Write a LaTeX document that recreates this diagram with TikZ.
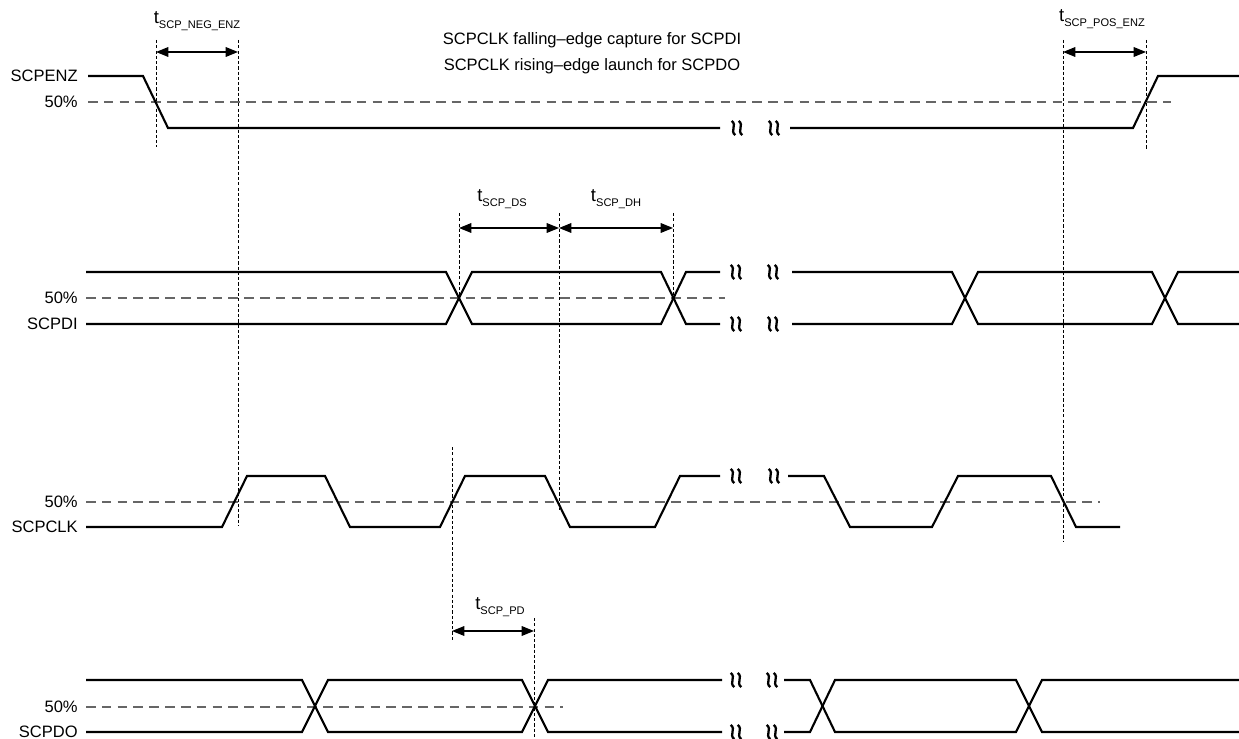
\documentclass[tikz,border=0pt]{standalone}
\usepackage{fontspec}
\setmainfont{Liberation Sans}
\usetikzlibrary{arrows.meta}
\newcommand{\tlab}[1]{{\fontsize{10.5}{12}\selectfont t}\raisebox{-0.55ex}{\fontsize{6.3}{7}\selectfont #1}}
\tikzset{
  brk/.pic={
    \foreach \dx in {-3.5,3.5}
      \draw[line width=1.3pt] (\dx-1.8,-7) .. controls (\dx+4,-3) and (\dx-4,3) .. (\dx+1.8,7);
  }
}

\begin{document}
\begin{tikzpicture}[x=0.02cm,y=-0.02cm,
  sig/.style={line width=1.2pt,line join=miter},
  half/.style={line width=0.8pt,gray!80!black,dash pattern=on 5.5pt off 3.5pt},
  tmark/.style={line width=0.5pt,dash pattern=on 1.8pt off 1.2pt},
  dim/.style={line width=0.7pt,{Triangle[length=7pt,width=5.5pt]}-{Triangle[length=7pt,width=5.5pt]}},
  lbl/.style={anchor=east,inner sep=0pt,font=\fontsize{9.4}{11}\selectfont},
  txt/.style={inner sep=0pt,font=\fontsize{9.4}{11}\selectfont}]
\useasboundingbox (0,0) rectangle (1239,739);

% row labels
\node[lbl] (enz) at (78,76) {SCPENZ};
\node[lbl] (enzh) at (78,102) {50\%};
\node[lbl] (dih) at (78,298) {50\%};
\node[lbl] (di) at (78,324) {SCPDI};
\node[lbl] (clkh) at (78,502) {50\%};
\node[lbl] (clk) at (78,527) {SCPCLK};
\node[lbl] (doh) at (78,707) {50\%};
\node[lbl] (do) at (78,732) {SCPDO};

\node[txt] (cap) at (592,40) {SCPCLK falling--edge capture for SCPDI};
\node[txt] (lau) at (592,66) {SCPCLK rising--edge launch for SCPDO};

% 50% levels
\draw[half] (88,102) -- (1171,102);
\draw[half] (86,298) -- (725,298);
\draw[half] (86,502) -- (1100,502);
\draw[half] (86,707) -- (563,707);

% SCPENZ
\draw[sig] (88,76) -- (143,76) -- (168,128) -- (720,128);
\draw[sig] (790,128) -- (1133,128) -- (1158,76) -- (1239,76);
\pic at (737,128) {brk};
\pic at (774,128) {brk};

% SCPDI
\draw[sig] (86,272) -- (446,272) -- (472,324) -- (661,324) -- (686,272) -- (720,272);
\draw[sig] (86,324) -- (446,324) -- (472,272) -- (661,272) -- (686,324) -- (720,324);
\draw[sig] (792,272) -- (952,272) -- (978,324) -- (1152,324) -- (1178,272) -- (1239,272);
\draw[sig] (792,324) -- (952,324) -- (978,272) -- (1152,272) -- (1178,324) -- (1239,324);
\foreach \y in {272,324} {
  \pic at (736,\y) {brk};
  \pic at (773,\y) {brk};
}

% SCPCLK
\draw[sig] (86,527) -- (222,527) -- (247,476) -- (325,476) -- (350,527) -- (440,527) -- (465,476)
  -- (545,476) -- (570,527) -- (655,527) -- (680,476) -- (720,476);
\draw[sig] (788,476) -- (824,476) -- (850,527) -- (932,527) -- (958,476) -- (1051,476) -- (1076,527) -- (1120,527);
\pic at (736,476) {brk};
\pic at (774,476) {brk};

% SCPDO
\draw[sig] (86,680) -- (302,680) -- (328,732) -- (522,732) -- (548,680) -- (722,680);
\draw[sig] (86,732) -- (302,732) -- (328,680) -- (522,680) -- (548,732) -- (722,732);
\draw[sig] (784,680) -- (810,680) -- (835,732) -- (1016,732) -- (1042,680) -- (1239,680);
\draw[sig] (784,732) -- (810,732) -- (835,680) -- (1016,680) -- (1042,732) -- (1239,732);
\foreach \y in {680,732} {
  \pic at (736,\y) {brk};
  \pic at (772,\y) {brk};
}

% timing markers
\draw[tmark] (156,40) -- (156,147);
\draw[tmark] (238,40) -- (238,526);
\draw[tmark] (1063,40) -- (1063,542);
\draw[tmark] (1146,40) -- (1146,149);
\draw[tmark] (459,213) -- (459,298);
\draw[tmark] (559,213) -- (559,510);
\draw[tmark] (673,213) -- (673,298);
\draw[tmark] (452,447) -- (452,642);
\draw[tmark] (534,618) -- (534,739);

\coordinate (ne1) at (156,52);
\coordinate (ne2) at (238,52);
\coordinate (pe1) at (1063,52);
\coordinate (pe2) at (1146,52);
\coordinate (ds1) at (459,228);
\coordinate (ds2) at (559,228);
\coordinate (dh2) at (673,228);
\coordinate (pd1) at (452,631);
\coordinate (pd2) at (534,631);

\draw[dim] (ne1) -- (ne2);
\draw[dim] (pe1) -- (pe2);
\draw[dim] (ds1) -- (ds2);
\draw[dim] (ds2) -- (dh2);
\draw[dim] (pd1) -- (pd2);

\node[txt] (tneg) at (197,21) {\tlab{SCP\_NEG\_ENZ}};
\node[txt] (tpos) at (1102,19) {\tlab{SCP\_POS\_ENZ}};
\node[txt] (tds) at (502,199) {\tlab{SCP\_DS}};
\node[txt] (tdh) at (616,199) {\tlab{SCP\_DH}};
\node[txt] (tpd) at (500,607) {\tlab{SCP\_PD}};
\end{tikzpicture}
\end{document}
